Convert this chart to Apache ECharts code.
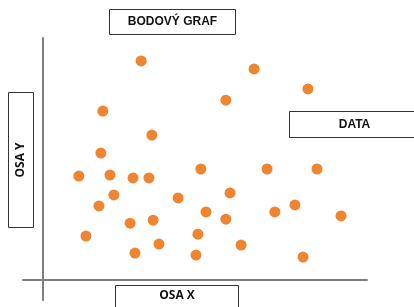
<!DOCTYPE html>
<html>
<head>
<meta charset="utf-8">
<script src="https://cdn.jsdelivr.net/npm/echarts@6/dist/echarts.min.js"></script>
<style>
  html, body { margin:0; padding:0; background:#fff; }
  #chart { width:414px; height:307px; }
</style>
</head>
<body>
<div id="chart"></div>
<script>
// body data
const xVals = [30.4, 65.2, 81.8, 56.5, 18.6, 33.7, 18.0, 11.2, 20.8, 27.9, 32.8,
  48.8, 69.2, 84.6, 22.0, 41.8, 57.8, 17.4, 77.8, 50.4, 71.6, 92.0,
  27.0, 34.1, 56.5, 13.4, 47.9, 35.9, 61.2, 28.5, 47.3, 80.3];
const yVals = [87.8, 84.6, 76.6, 72.1, 67.7, 58.1, 50.9, 41.7, 42.1, 40.9, 40.9,
  44.5, 44.5, 44.5, 34.1, 32.9, 34.9, 29.7, 30.1, 27.3, 27.3, 25.7,
  22.8, 24.0, 24.4, 17.6, 18.4, 14.4, 14.0, 10.8, 10.0, 9.2];
const titleText = "BODOVÝ GRAF";
const seriesName = "DATA";
const xName = "OSA X";
const yName = "OSA Y";

const points = xVals.map((x, i) => [x, yVals[i]]);

const chart = echarts.init(document.getElementById("chart"));

// labelled box; ty = text centre from the box top (defaults to middle)
function box(x, y, w, h, text, font, rotation, ty) {
  return {
    type: "group",
    x: x, y: y,
    children: [
      { type: "rect", shape: { x: 0, y: 0, width: w, height: h },
        style: { fill: "#fff", stroke: "#333", lineWidth: 1 } },
      { type: "text", x: w / 2, y: ty != null ? ty : h / 2, rotation: rotation || 0,
        style: { text: text, fill: "#111", font: font, align: "center", verticalAlign: "middle" } }
    ]
  };
}

chart.setOption({
  animation: false,
  grid: { left: 23, right: 47, top: 38, bottom: 7 },
  xAxis: {
    type: "value", min: -6, max: 100,
    splitLine: { show: false }, axisTick: { show: false }, axisLabel: { show: false },
    axisLine: { onZero: true, lineStyle: { color: "#7f7f7f", width: 2 } }
  },
  yAxis: {
    type: "value", min: -8, max: 97,
    splitLine: { show: false }, axisTick: { show: false }, axisLabel: { show: false },
    axisLine: { onZero: true, lineStyle: { color: "#7f7f7f", width: 2 } }
  },
  series: [{
    name: seriesName,
    type: "scatter",
    data: points,
    symbolSize: 11,
    itemStyle: { color: "#EF8530", opacity: 1 }
  }],
  graphic: [
    box(109.5, 9.5, 126, 25, titleText, "bold 12px 'Liberation Sans', Arial, sans-serif"),
    box(289.5, 111.5, 130, 26, seriesName, "bold 12px 'Liberation Sans', Arial, sans-serif"),
    box(115.5, 285.5, 123, 30, xName, "bold 12px 'Open Sans', sans-serif", 0, 10.5),
    box(8.5, 92.5, 25, 135, yName, "bold 12px 'Open Sans', sans-serif", Math.PI / 2)
  ]
});

window.addEventListener("resize", () => chart.resize());
</script>
</body>
</html>
